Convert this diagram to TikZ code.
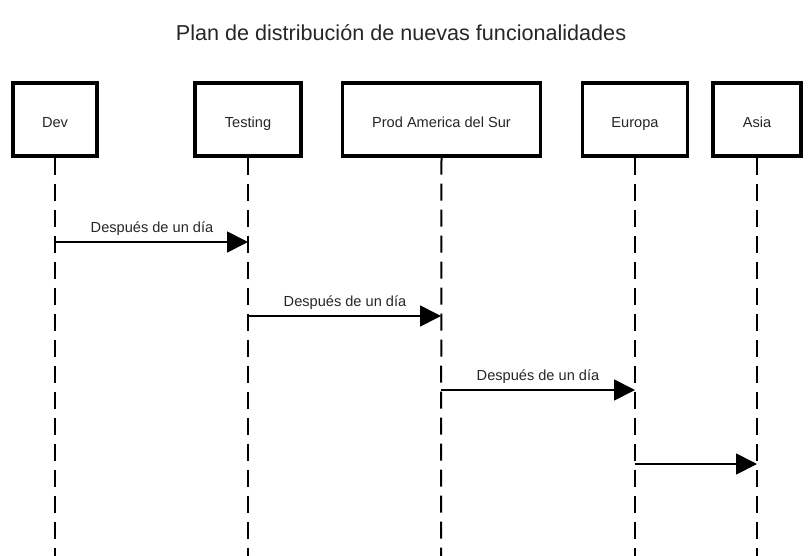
\documentclass[tikz,border=0pt]{standalone}
\usepackage{fontspec}
\setmainfont{Liberation Sans}
\usetikzlibrary{arrows.meta}
\begin{document}
\begin{tikzpicture}[x=1pt,y=-1pt,
  actor/.style={draw=black,line width=3.3pt,fill=white,minimum height=73pt,inner sep=0pt,text height=19pt,text depth=3pt,font=\fontsize{14.6}{17}\selectfont,text=black!85},
  lifeline/.style={line width=2pt,dash pattern=on 17pt off 9pt},
  msg/.style={line width=1.8pt,-{Triangle[length=21pt,width=21pt]}},
  lbl/.style={font=\fontsize{14.6}{17}\selectfont,text=black!85,inner sep=0pt}]
\useasboundingbox (0,0) rectangle (812,555);
\node[font=\fontsize{21.6}{26}\selectfont,text=black!85] (title) at (401,33) {Plan de distribución de nuevas funcionalidades};
\node[actor,minimum width=84pt] (dev) at (55,119.5) {Dev};
\node[actor,minimum width=106pt] (test) at (248,119.5) {Testing};
\node[actor,minimum width=198pt] (prod) at (441.5,119.5) {Prod America del Sur};
\node[actor,minimum width=105pt] (eu) at (635,119.5) {Europa};
\node[actor,minimum width=88pt] (asia) at (757,119.5) {Asia};
\foreach \n/\x in {dev/55,test/248,prod/441,eu/635,asia/757}{
  \coordinate (\n-end) at (\x,556);
  \draw[lifeline] (\n.south) -- (\n-end);
}
\coordinate (a1) at (55,242); \coordinate (b1) at (248,242);
\coordinate (a2) at (248,316); \coordinate (b2) at (441,316);
\coordinate (a3) at (441,390); \coordinate (b3) at (635,390);
\coordinate (a4) at (635,464); \coordinate (b4) at (757,464);
\draw[msg] (a1) -- (b1);
\draw[msg] (a2) -- (b2);
\draw[msg] (a3) -- (b3);
\draw[msg] (a4) -- (b4);
\node[lbl] (l1) at (152,228.5) {Después de un día};
\node[lbl] (l2) at (345,302.5) {Después de un día};
\node[lbl] (l3) at (538,376.5) {Después de un día};
\end{tikzpicture}
\end{document}
